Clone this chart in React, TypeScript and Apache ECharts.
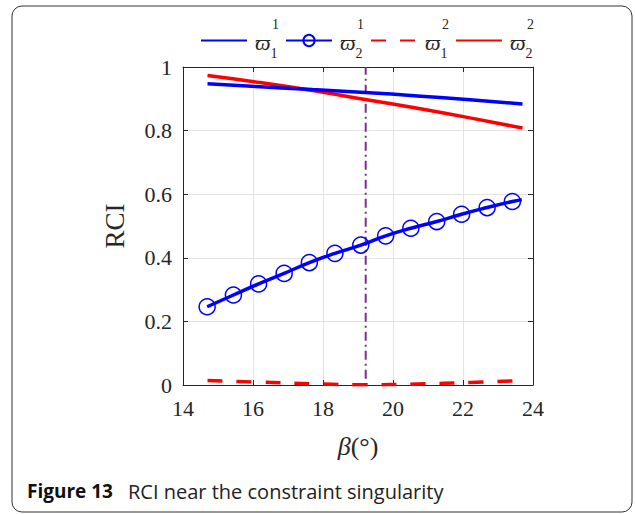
import React, { useEffect, useRef } from "react";
import * as echarts from "echarts";

// β (degrees) sample points for the smooth curves
const curveX = [14.7, 16.2, 17.7, 19.2, 20.7, 22.2, 23.7];
const w11 = [0.947, 0.938, 0.929, 0.92, 0.909, 0.897, 0.884];
const w22 = [0.973, 0.951, 0.926, 0.898, 0.87, 0.84, 0.808];
const w12 = [0.014, 0.009, 0.004, 0.001, 0.003, 0.008, 0.014];
// marked curve
const markX = [14.69, 15.44, 16.16, 16.89, 17.61, 18.34, 19.08, 19.79, 20.51, 21.25, 21.96, 22.69, 23.41, 23.68];
const w21 = [0.246, 0.283, 0.318, 0.351, 0.385, 0.414, 0.44, 0.469, 0.493, 0.514, 0.537, 0.558, 0.577, 0.583];
// singular position
const singularX = 19.22;
const singularY = [0.02, 1];

const yTicks = [0, 0.2, 0.4, 0.6, 0.8, 1];

const names = ["w11", "w21", "w12", "w22"];
const legendText: Record<string, string> = {
  w11: "{pad|}{sup|1}\n{w|ϖ}{sub|1}",
  w21: "{pad|}{sup|1}\n{w|ϖ}{sub|2}",
  w12: "{pad|}{sup|2}\n{w|ϖ}{sub|1}",
  w22: "{pad|}{sup|2}\n{w|ϖ}{sub|2}",
};

const serif = "'Liberation Serif', 'DejaVu Serif', serif";
const sans = "'Open Sans', 'Noto Sans', sans-serif";

export default function App() {
  const ref = useRef<HTMLDivElement>(null);
  useEffect(() => {
    if (!ref.current) return;
    const chart = echarts.init(ref.current, null, { renderer: "svg" });
    const pair = (xs: number[], ys: number[]) => xs.map((x, i) => [x, ys[i]]);
    const axisCommon = {
      type: "value" as const,
      axisLine: { show: true, onZero: false, lineStyle: { color: "#262626", width: 1 } },
      axisTick: { show: true, inside: true, length: 5, lineStyle: { color: "#262626" } },
    };
    const hiddenSymbol = { color: "rgba(0,0,0,0)", borderWidth: 0, opacity: 0 };
    chart.setOption({
      animation: false,
      backgroundColor: "#ffffff",
      grid: { left: 183, right: 102, top: 67, bottom: 129 },
      legend: {
        data: [
          { name: names[0], itemStyle: hiddenSymbol },
          { name: names[1] },
          { name: names[2], itemStyle: hiddenSymbol },
          { name: names[3], itemStyle: hiddenSymbol },
        ],
        left: 195,
        top: 12,
        itemWidth: 46,
        itemHeight: 14,
        itemGap: 6,
        formatter: (n: string) => legendText[n],
        textStyle: {
          fontFamily: serif,
          color: "#262626",
          padding: [19, 0, 0, 3],
          rich: {
            pad: { width: 17, lineHeight: 6, fontSize: 14 },
            sup: { fontSize: 14, fontFamily: serif, lineHeight: 2, verticalAlign: "bottom", color: "#262626" },
            w: { fontSize: 22, fontStyle: "italic", fontFamily: serif, lineHeight: 10, verticalAlign: "top", color: "#262626" },
            sub: { fontSize: 14, fontFamily: serif, lineHeight: 44, color: "#262626" },
          },
        },
      },
      xAxis: [
        {
          ...axisCommon,
          position: "bottom",
          min: 14,
          max: 24,
          interval: 2,
          axisLabel: { fontFamily: serif, fontSize: 22, color: "#262626", margin: 12 },
          splitLine: { show: true, lineStyle: { color: "#e3e3e3", width: 1 } },
          name: "{i|β}(°)",
          nameLocation: "middle",
          nameGap: 48,
          nameTextStyle: {
            fontFamily: serif,
            fontSize: 26,
            color: "#262626",
            rich: { i: { fontFamily: serif, fontSize: 26, fontStyle: "italic", color: "#262626" } },
          },
        },
        {
          ...axisCommon,
          position: "top",
          min: 14,
          max: 24,
          interval: 2,
          axisLabel: { show: false },
          splitLine: { show: false },
        },
      ],
      yAxis: [
        {
          ...axisCommon,
          position: "left",
          min: 0,
          max: 1,
          interval: 0.2,
          axisLabel: {
            fontFamily: serif,
            fontSize: 22,
            color: "#262626",
            margin: 11,
            formatter: (v: number) => (yTicks.includes(Number(v.toFixed(1))) ? String(Number(v.toFixed(1))) : ""),
          },
          splitLine: { show: true, lineStyle: { color: "#e3e3e3", width: 1 } },
          name: "RCI",
          nameLocation: "middle",
          nameGap: 55,
          nameTextStyle: { fontFamily: serif, fontSize: 27, color: "#262626" },
        },
        {
          ...axisCommon,
          position: "right",
          min: 0,
          max: 1,
          interval: 0.2,
          axisLabel: { show: false },
          splitLine: { show: false },
        },
      ],
      series: [
        {
          name: "singular",
          type: "line",
          data: [[singularX, singularY[0]], [singularX, singularY[1]]],
          symbol: "none",
          lineStyle: { color: "#7E2F8E", width: 2, type: [9, 4, 2, 4] },
          z: 1,
        },
        {
          name: names[0],
          type: "line",
          data: pair(curveX, w11),
          symbol: "none",
          smooth: true,
          lineStyle: { color: "#0000ff", width: 3.5 },
          itemStyle: { color: "#0000ff" },
          z: 3,
        },
        {
          name: names[1],
          type: "line",
          data: pair(markX, w21).map((p, i) =>
            i === markX.length - 1 ? { value: p, symbol: "none" } : { value: p }
          ),
          symbol: "circle",
          symbolSize: 16,
          showAllSymbol: true,
          smooth: true,
          lineStyle: { color: "#0000ff", width: 3.5 },
          itemStyle: { color: "rgba(0,0,0,0)", borderColor: "#0000ff", borderWidth: 1.5 },
          z: 3,
        },
        {
          name: names[2],
          type: "line",
          data: pair(curveX, w12),
          symbol: "none",
          smooth: true,
          lineStyle: { color: "#ff0000", width: 3.5, type: [15, 14] },
          itemStyle: { color: "#ff0000" },
          z: 3,
        },
        {
          name: names[3],
          type: "line",
          data: pair(curveX, w22),
          symbol: "none",
          smooth: true,
          lineStyle: { color: "#ff0000", width: 3.5 },
          itemStyle: { color: "#ff0000" },
          z: 2,
        },
      ],
      graphic: [
        {
          type: "rect",
          shape: { x: 12, y: 6, width: 620, height: 506, r: 10 },
          style: { fill: "none", stroke: "#333", lineWidth: 1 },
          silent: true,
        },
        {
          type: "text",
          left: 27,
          top: 481,
          style: { text: "Figure 13", font: `bold 19px ${sans}`, fill: "#111" },
        },
        {
          type: "text",
          left: 128,
          top: 481,
          style: { text: "RCI near the constraint singularity", font: `20px ${sans}`, fill: "#222" },
        },
      ],
    });
    return () => chart.dispose();
  }, []);
  return (
    <div
      ref={ref}
      style={{ position: "fixed", left: 0, top: 0, width: 635, height: 514, background: "#fff" }}
    />
  );
}
